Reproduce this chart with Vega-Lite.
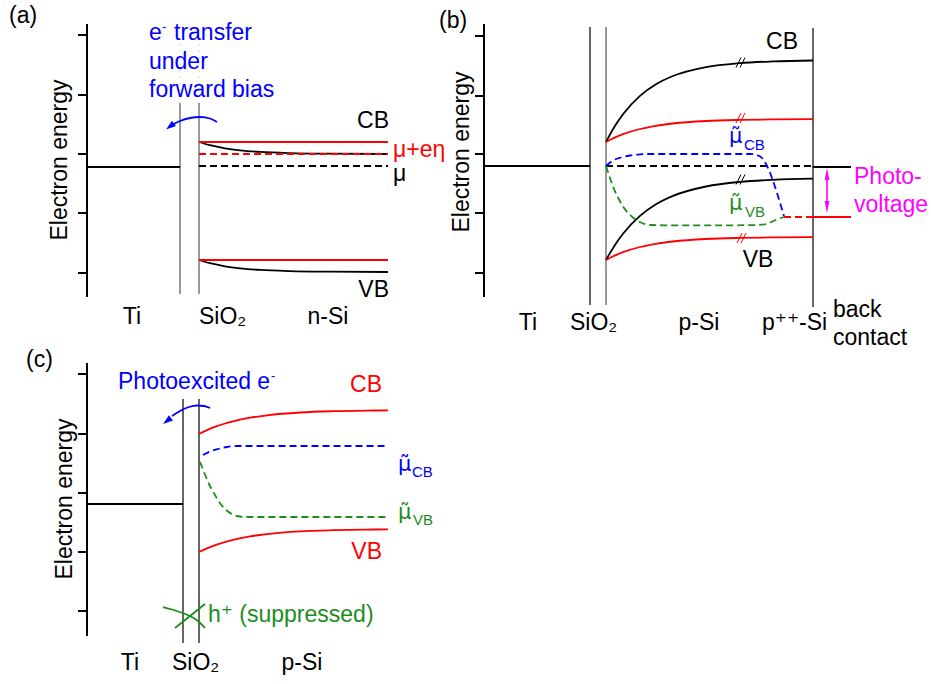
{
  "$schema": "https://vega.github.io/schema/vega-lite/v6.json",
  "width": 931,
  "height": 684,
  "autosize": {"type": "fit", "contains": "padding"},
  "padding": 0,
  "config": {"view": {"stroke": null}, "font": "Liberation Sans, Arial, DejaVu Sans"},
  "datasets": {
    "curves": [
      {"id": "a_cb", "s": "dark", "ln": "solid", "x": 199, "y": 142}, {"id": "a_cb", "s": "dark", "ln": "solid", "x": 210, "y": 145.2}, {"id": "a_cb", "s": "dark", "ln": "solid", "x": 225, "y": 148.3}, {"id": "a_cb", "s": "dark", "ln": "solid", "x": 240, "y": 150.3}, {"id": "a_cb", "s": "dark", "ln": "solid", "x": 260, "y": 151.9}, {"id": "a_cb", "s": "dark", "ln": "solid", "x": 290, "y": 153.1}, {"id": "a_cb", "s": "dark", "ln": "solid", "x": 330, "y": 153.7}, {"id": "a_cb", "s": "dark", "ln": "solid", "x": 388, "y": 154},
      {"id": "a_vb", "s": "dark", "ln": "solid", "x": 199, "y": 260}, {"id": "a_vb", "s": "dark", "ln": "solid", "x": 210, "y": 263.2}, {"id": "a_vb", "s": "dark", "ln": "solid", "x": 225, "y": 266.3}, {"id": "a_vb", "s": "dark", "ln": "solid", "x": 240, "y": 268.3}, {"id": "a_vb", "s": "dark", "ln": "solid", "x": 260, "y": 269.9}, {"id": "a_vb", "s": "dark", "ln": "solid", "x": 290, "y": 271.1}, {"id": "a_vb", "s": "dark", "ln": "solid", "x": 330, "y": 271.7}, {"id": "a_vb", "s": "dark", "ln": "solid", "x": 388, "y": 272},
      {"id": "a_cbl", "s": "light", "ln": "solid", "x": 199, "y": 142}, {"id": "a_cbl", "s": "light", "ln": "solid", "x": 388, "y": 142},
      {"id": "a_vbl", "s": "light", "ln": "solid", "x": 199, "y": 260}, {"id": "a_vbl", "s": "light", "ln": "solid", "x": 388, "y": 260},
      {"id": "a_ti", "s": "dark", "ln": "solid", "x": 87, "y": 167}, {"id": "a_ti", "s": "dark", "ln": "solid", "x": 180, "y": 167},
      {"id": "a_mu", "s": "light", "ln": "dash", "x": 199, "y": 154}, {"id": "a_mu", "s": "light", "ln": "dash", "x": 388, "y": 154},
      {"id": "a_ef", "s": "dark", "ln": "dash", "x": 199, "y": 166}, {"id": "a_ef", "s": "dark", "ln": "dash", "x": 388, "y": 166},
      {"id": "a_arr", "s": "elec", "ln": "solid", "x": 172, "y": 125}, {"id": "a_arr", "s": "elec", "ln": "solid", "x": 180, "y": 121}, {"id": "a_arr", "s": "elec", "ln": "solid", "x": 190, "y": 118}, {"id": "a_arr", "s": "elec", "ln": "solid", "x": 200, "y": 117}, {"id": "a_arr", "s": "elec", "ln": "solid", "x": 210, "y": 118.5}, {"id": "a_arr", "s": "elec", "ln": "solid", "x": 217, "y": 122},

      {"id": "b_cb", "s": "dark", "ln": "solid", "x": 606, "y": 142}, {"id": "b_cb", "s": "dark", "ln": "solid", "x": 614, "y": 127.5}, {"id": "b_cb", "s": "dark", "ln": "solid", "x": 623, "y": 114.2}, {"id": "b_cb", "s": "dark", "ln": "solid", "x": 640, "y": 95.8}, {"id": "b_cb", "s": "dark", "ln": "solid", "x": 656, "y": 84.2}, {"id": "b_cb", "s": "dark", "ln": "solid", "x": 673, "y": 76}, {"id": "b_cb", "s": "dark", "ln": "solid", "x": 706, "y": 67.1}, {"id": "b_cb", "s": "dark", "ln": "solid", "x": 740, "y": 63.1}, {"id": "b_cb", "s": "dark", "ln": "solid", "x": 773, "y": 61.4}, {"id": "b_cb", "s": "dark", "ln": "solid", "x": 813, "y": 60.5},
      {"id": "b_cbl", "s": "light", "ln": "solid", "x": 606, "y": 142}, {"id": "b_cbl", "s": "light", "ln": "solid", "x": 614, "y": 137.9}, {"id": "b_cbl", "s": "light", "ln": "solid", "x": 623, "y": 134.2}, {"id": "b_cbl", "s": "light", "ln": "solid", "x": 640, "y": 129}, {"id": "b_cbl", "s": "light", "ln": "solid", "x": 656, "y": 125.8}, {"id": "b_cbl", "s": "light", "ln": "solid", "x": 673, "y": 123.5}, {"id": "b_cbl", "s": "light", "ln": "solid", "x": 706, "y": 121}, {"id": "b_cbl", "s": "light", "ln": "solid", "x": 740, "y": 119.9}, {"id": "b_cbl", "s": "light", "ln": "solid", "x": 773, "y": 119.4}, {"id": "b_cbl", "s": "light", "ln": "solid", "x": 813, "y": 119.1},
      {"id": "b_vb", "s": "dark", "ln": "solid", "x": 606, "y": 260}, {"id": "b_vb", "s": "dark", "ln": "solid", "x": 614, "y": 246.4}, {"id": "b_vb", "s": "dark", "ln": "solid", "x": 623, "y": 233.7}, {"id": "b_vb", "s": "dark", "ln": "solid", "x": 640, "y": 215.9}, {"id": "b_vb", "s": "dark", "ln": "solid", "x": 656, "y": 204.3}, {"id": "b_vb", "s": "dark", "ln": "solid", "x": 673, "y": 195.9}, {"id": "b_vb", "s": "dark", "ln": "solid", "x": 706, "y": 186.5}, {"id": "b_vb", "s": "dark", "ln": "solid", "x": 740, "y": 181.9}, {"id": "b_vb", "s": "dark", "ln": "solid", "x": 773, "y": 179.8}, {"id": "b_vb", "s": "dark", "ln": "solid", "x": 813, "y": 178.7},
      {"id": "b_vbl", "s": "light", "ln": "solid", "x": 606, "y": 260}, {"id": "b_vbl", "s": "light", "ln": "solid", "x": 614, "y": 255.9}, {"id": "b_vbl", "s": "light", "ln": "solid", "x": 623, "y": 252.2}, {"id": "b_vbl", "s": "light", "ln": "solid", "x": 640, "y": 247}, {"id": "b_vbl", "s": "light", "ln": "solid", "x": 656, "y": 243.8}, {"id": "b_vbl", "s": "light", "ln": "solid", "x": 673, "y": 241.5}, {"id": "b_vbl", "s": "light", "ln": "solid", "x": 706, "y": 239}, {"id": "b_vbl", "s": "light", "ln": "solid", "x": 740, "y": 237.9}, {"id": "b_vbl", "s": "light", "ln": "solid", "x": 773, "y": 237.4}, {"id": "b_vbl", "s": "light", "ln": "solid", "x": 813, "y": 237.1},
      {"id": "b_ti", "s": "dark", "ln": "solid", "x": 484, "y": 166}, {"id": "b_ti", "s": "dark", "ln": "solid", "x": 590, "y": 166},
      {"id": "b_fb", "s": "dark", "ln": "solid", "x": 813, "y": 167}, {"id": "b_fb", "s": "dark", "ln": "solid", "x": 851, "y": 167},
      {"id": "b_rb", "s": "light", "ln": "solid", "x": 813, "y": 217}, {"id": "b_rb", "s": "light", "ln": "solid", "x": 851, "y": 217},
      {"id": "b_ef", "s": "dark", "ln": "dash", "x": 606, "y": 166}, {"id": "b_ef", "s": "dark", "ln": "dash", "x": 813, "y": 166},
      {"id": "b_rd", "s": "light", "ln": "dash", "x": 784, "y": 217}, {"id": "b_rd", "s": "light", "ln": "dash", "x": 813, "y": 217},
      {"id": "b_mc", "s": "muCB", "ln": "dash", "x": 606, "y": 166}, {"id": "b_mc", "s": "muCB", "ln": "dash", "x": 613, "y": 160.5}, {"id": "b_mc", "s": "muCB", "ln": "dash", "x": 621, "y": 157.5}, {"id": "b_mc", "s": "muCB", "ln": "dash", "x": 630, "y": 155.5}, {"id": "b_mc", "s": "muCB", "ln": "dash", "x": 640, "y": 154.3}, {"id": "b_mc", "s": "muCB", "ln": "dash", "x": 650, "y": 154}, {"id": "b_mc", "s": "muCB", "ln": "dash", "x": 700, "y": 154}, {"id": "b_mc", "s": "muCB", "ln": "dash", "x": 750, "y": 154}, {"id": "b_mc", "s": "muCB", "ln": "dash", "x": 757, "y": 155}, {"id": "b_mc", "s": "muCB", "ln": "dash", "x": 762, "y": 158}, {"id": "b_mc", "s": "muCB", "ln": "dash", "x": 767, "y": 166}, {"id": "b_mc", "s": "muCB", "ln": "dash", "x": 772, "y": 178}, {"id": "b_mc", "s": "muCB", "ln": "dash", "x": 777, "y": 193}, {"id": "b_mc", "s": "muCB", "ln": "dash", "x": 781, "y": 206}, {"id": "b_mc", "s": "muCB", "ln": "dash", "x": 784, "y": 216},
      {"id": "b_mv", "s": "muVB", "ln": "dash", "x": 606, "y": 166}, {"id": "b_mv", "s": "muVB", "ln": "dash", "x": 609, "y": 175}, {"id": "b_mv", "s": "muVB", "ln": "dash", "x": 613, "y": 186.5}, {"id": "b_mv", "s": "muVB", "ln": "dash", "x": 618, "y": 197.5}, {"id": "b_mv", "s": "muVB", "ln": "dash", "x": 623, "y": 206.5}, {"id": "b_mv", "s": "muVB", "ln": "dash", "x": 633, "y": 217.5}, {"id": "b_mv", "s": "muVB", "ln": "dash", "x": 642, "y": 223}, {"id": "b_mv", "s": "muVB", "ln": "dash", "x": 650, "y": 225}, {"id": "b_mv", "s": "muVB", "ln": "dash", "x": 665, "y": 225.3}, {"id": "b_mv", "s": "muVB", "ln": "dash", "x": 730, "y": 225.3}, {"id": "b_mv", "s": "muVB", "ln": "dash", "x": 758, "y": 225}, {"id": "b_mv", "s": "muVB", "ln": "dash", "x": 766, "y": 224}, {"id": "b_mv", "s": "muVB", "ln": "dash", "x": 772, "y": 221.7}, {"id": "b_mv", "s": "muVB", "ln": "dash", "x": 778, "y": 219}, {"id": "b_mv", "s": "muVB", "ln": "dash", "x": 784, "y": 217},

      {"id": "c_ti", "s": "dark", "ln": "solid", "x": 87, "y": 504}, {"id": "c_ti", "s": "dark", "ln": "solid", "x": 183, "y": 504},
      {"id": "c_cbl", "s": "light", "ln": "solid", "x": 199, "y": 434}, {"id": "c_cbl", "s": "light", "ln": "solid", "x": 207, "y": 430.1}, {"id": "c_cbl", "s": "light", "ln": "solid", "x": 216, "y": 426.4}, {"id": "c_cbl", "s": "light", "ln": "solid", "x": 233, "y": 421.3}, {"id": "c_cbl", "s": "light", "ln": "solid", "x": 250, "y": 417.7}, {"id": "c_cbl", "s": "light", "ln": "solid", "x": 267, "y": 415.3}, {"id": "c_cbl", "s": "light", "ln": "solid", "x": 300, "y": 412.5}, {"id": "c_cbl", "s": "light", "ln": "solid", "x": 333, "y": 411.2}, {"id": "c_cbl", "s": "light", "ln": "solid", "x": 366, "y": 410.6}, {"id": "c_cbl", "s": "light", "ln": "solid", "x": 388, "y": 410.4},
      {"id": "c_vbl", "s": "light", "ln": "solid", "x": 199, "y": 552}, {"id": "c_vbl", "s": "light", "ln": "solid", "x": 207, "y": 548.3}, {"id": "c_vbl", "s": "light", "ln": "solid", "x": 216, "y": 544.8}, {"id": "c_vbl", "s": "light", "ln": "solid", "x": 233, "y": 539.8}, {"id": "c_vbl", "s": "light", "ln": "solid", "x": 250, "y": 536.4}, {"id": "c_vbl", "s": "light", "ln": "solid", "x": 267, "y": 534.1}, {"id": "c_vbl", "s": "light", "ln": "solid", "x": 300, "y": 531.4}, {"id": "c_vbl", "s": "light", "ln": "solid", "x": 333, "y": 530.2}, {"id": "c_vbl", "s": "light", "ln": "solid", "x": 366, "y": 529.6}, {"id": "c_vbl", "s": "light", "ln": "solid", "x": 388, "y": 529.4},
      {"id": "c_mc", "s": "muCB", "ln": "dash", "x": 203, "y": 455}, {"id": "c_mc", "s": "muCB", "ln": "dash", "x": 210, "y": 451.5}, {"id": "c_mc", "s": "muCB", "ln": "dash", "x": 218, "y": 449}, {"id": "c_mc", "s": "muCB", "ln": "dash", "x": 227, "y": 447}, {"id": "c_mc", "s": "muCB", "ln": "dash", "x": 237, "y": 446}, {"id": "c_mc", "s": "muCB", "ln": "dash", "x": 388, "y": 446},
      {"id": "c_mv", "s": "muVB", "ln": "dash", "x": 200, "y": 462}, {"id": "c_mv", "s": "muVB", "ln": "dash", "x": 204, "y": 472}, {"id": "c_mv", "s": "muVB", "ln": "dash", "x": 209, "y": 484}, {"id": "c_mv", "s": "muVB", "ln": "dash", "x": 215, "y": 495}, {"id": "c_mv", "s": "muVB", "ln": "dash", "x": 221, "y": 504.5}, {"id": "c_mv", "s": "muVB", "ln": "dash", "x": 228, "y": 511.5}, {"id": "c_mv", "s": "muVB", "ln": "dash", "x": 237, "y": 516}, {"id": "c_mv", "s": "muVB", "ln": "dash", "x": 247, "y": 517}, {"id": "c_mv", "s": "muVB", "ln": "dash", "x": 388, "y": 517},
      {"id": "c_arr", "s": "elec", "ln": "solid", "x": 172, "y": 416}, {"id": "c_arr", "s": "elec", "ln": "solid", "x": 180, "y": 411}, {"id": "c_arr", "s": "elec", "ln": "solid", "x": 189, "y": 407}, {"id": "c_arr", "s": "elec", "ln": "solid", "x": 197, "y": 405.5}, {"id": "c_arr", "s": "elec", "ln": "solid", "x": 204, "y": 406}, {"id": "c_arr", "s": "elec", "ln": "solid", "x": 210, "y": 408},
      {"id": "c_x1", "s": "hole", "ln": "solid", "x": 163, "y": 607}, {"id": "c_x1", "s": "hole", "ln": "solid", "x": 172, "y": 609.5}, {"id": "c_x1", "s": "hole", "ln": "solid", "x": 181, "y": 612.5}, {"id": "c_x1", "s": "hole", "ln": "solid", "x": 190, "y": 616}, {"id": "c_x1", "s": "hole", "ln": "solid", "x": 198, "y": 621}, {"id": "c_x1", "s": "hole", "ln": "solid", "x": 205, "y": 628},
      {"id": "c_x2", "s": "hole", "ln": "solid", "x": 175, "y": 628}, {"id": "c_x2", "s": "hole", "ln": "solid", "x": 205, "y": 604}
    ],
    "segs": [
      {"k": "ax", "s": "dark", "x": 87, "y": 24, "x2": 87, "y2": 297},
      {"k": "ax", "s": "dark", "x": 78, "y": 35, "x2": 87, "y2": 35}, {"k": "ax", "s": "dark", "x": 78, "y": 95, "x2": 87, "y2": 95}, {"k": "ax", "s": "dark", "x": 78, "y": 154, "x2": 87, "y2": 154}, {"k": "ax", "s": "dark", "x": 78, "y": 213, "x2": 87, "y2": 213}, {"k": "ax", "s": "dark", "x": 78, "y": 273, "x2": 87, "y2": 273},
      {"k": "ax", "s": "dark", "x": 484, "y": 24, "x2": 484, "y2": 297},
      {"k": "ax", "s": "dark", "x": 475, "y": 36, "x2": 484, "y2": 36}, {"k": "ax", "s": "dark", "x": 475, "y": 96, "x2": 484, "y2": 96}, {"k": "ax", "s": "dark", "x": 475, "y": 154, "x2": 484, "y2": 154}, {"k": "ax", "s": "dark", "x": 475, "y": 213, "x2": 484, "y2": 213}, {"k": "ax", "s": "dark", "x": 475, "y": 273, "x2": 484, "y2": 273},
      {"k": "ax", "s": "dark", "x": 87, "y": 363, "x2": 87, "y2": 636},
      {"k": "ax", "s": "dark", "x": 78, "y": 374, "x2": 87, "y2": 374}, {"k": "ax", "s": "dark", "x": 78, "y": 434, "x2": 87, "y2": 434}, {"k": "ax", "s": "dark", "x": 78, "y": 493, "x2": 87, "y2": 493}, {"k": "ax", "s": "dark", "x": 78, "y": 552, "x2": 87, "y2": 552}, {"k": "ax", "s": "dark", "x": 78, "y": 611, "x2": 87, "y2": 611},
      {"k": "wall", "s": "ox", "x": 180, "y": 103, "x2": 180, "y2": 294}, {"k": "wall", "s": "ox", "x": 199, "y": 103, "x2": 199, "y2": 294},
      {"k": "wall", "s": "dark", "x": 590, "y": 27, "x2": 590, "y2": 305}, {"k": "wall", "s": "ox", "x": 606, "y": 27, "x2": 606, "y2": 305}, {"k": "wall", "s": "dark", "x": 813, "y": 28, "x2": 813, "y2": 307},
      {"k": "wall", "s": "dark", "x": 183, "y": 399, "x2": 183, "y2": 643}, {"k": "wall", "s": "dark", "x": 199, "y": 399, "x2": 199, "y2": 643},
      {"k": "dot", "s": "ox", "x": 180, "y": 44, "x2": 180, "y2": 103}, {"k": "dot", "s": "ox", "x": 199, "y": 44, "x2": 199, "y2": 103},
      {"k": "brk", "s": "dark", "x": 736, "y": 67.5, "x2": 741, "y2": 57.5}, {"k": "brk", "s": "dark", "x": 740, "y": 67.5, "x2": 745, "y2": 57.5},
      {"k": "brk", "s": "light", "x": 736, "y": 123, "x2": 741, "y2": 113}, {"k": "brk", "s": "light", "x": 740, "y": 123, "x2": 745, "y2": 113},
      {"k": "brk", "s": "dark", "x": 736, "y": 184.5, "x2": 741, "y2": 174.5}, {"k": "brk", "s": "dark", "x": 740, "y": 184.5, "x2": 745, "y2": 174.5},
      {"k": "brk", "s": "light", "x": 737, "y": 243, "x2": 742, "y2": 233}, {"k": "brk", "s": "light", "x": 741, "y": 243, "x2": 746, "y2": 233},
      {"k": "mag", "s": "pv", "x": 827, "y": 173, "x2": 827, "y2": 208}
    ],
    "heads": [
      {"k": "dl", "s": "elec", "x": 170, "y": 126.5},
      {"k": "dl", "s": "elec", "x": 167, "y": 421},
      {"k": "up", "s": "pv", "x": 827, "y": 174},
      {"k": "dn", "s": "pv", "x": 827, "y": 207}
    ],
    "texts": [
      {"k": "L", "s": "dark", "t": "(a)", "x": 9, "y": 16},
      {"k": "L", "s": "elec", "t": "e", "x": 149, "y": 33},
      {"k": "L", "s": "elec", "t": "transfer", "x": 174, "y": 33},
      {"k": "L", "s": "elec", "t": "under", "x": 149, "y": 62},
      {"k": "L", "s": "elec", "t": "forward bias", "x": 149, "y": 90},
      {"k": "L", "s": "light", "t": "μ+eη", "x": 393, "y": 150},
      {"k": "L", "s": "dark", "t": "μ", "x": 393, "y": 174},
      {"k": "L", "s": "dark", "t": "SiO₂", "x": 199, "y": 317},
      {"k": "L", "s": "dark", "t": "(b)", "x": 439, "y": 21},
      {"k": "L", "s": "dark", "t": "SiO₂", "x": 570, "y": 323},
      {"k": "L", "s": "dark", "t": "p⁺⁺-Si", "x": 762, "y": 323},
      {"k": "L", "s": "dark", "t": "back", "x": 833, "y": 310},
      {"k": "L", "s": "dark", "t": "contact", "x": 833, "y": 338},
      {"k": "L", "s": "pv", "t": "Photo-", "x": 854, "y": 177},
      {"k": "L", "s": "pv", "t": "voltage", "x": 854, "y": 205},
      {"k": "U", "s": "muCB", "t": "μ̃", "x": 729, "y": 137},
      {"k": "U", "s": "muVB", "t": "μ̃", "x": 729, "y": 204},
      {"k": "L", "s": "dark", "t": "(c)", "x": 26, "y": 360},
      {"k": "L", "s": "elec", "t": "Photoexcited e", "x": 118, "y": 382},
      {"k": "U", "s": "muCB", "t": "μ̃", "x": 398, "y": 465},
      {"k": "U", "s": "muVB", "t": "μ̃", "x": 398, "y": 513},
      {"k": "L", "s": "hole", "t": "h⁺ (suppressed)", "x": 208, "y": 615},
      {"k": "L", "s": "dark", "t": "SiO₂", "x": 172, "y": 663},
      {"k": "S", "s": "muCB", "t": "CB", "x": 744, "y": 145},
      {"k": "S", "s": "muVB", "t": "VB", "x": 745, "y": 212},
      {"k": "S", "s": "muCB", "t": "CB", "x": 412, "y": 472},
      {"k": "S", "s": "muVB", "t": "VB", "x": 413, "y": 520},
      {"k": "P", "s": "elec", "t": "-", "x": 162, "y": 27},
      {"k": "P", "s": "elec", "t": "-", "x": 271, "y": 376},
      {"k": "C", "s": "dark", "t": "Ti", "x": 132, "y": 317},
      {"k": "C", "s": "dark", "t": "n-Si", "x": 328, "y": 317},
      {"k": "C", "s": "dark", "t": "Ti", "x": 528, "y": 323},
      {"k": "C", "s": "dark", "t": "p-Si", "x": 699, "y": 323},
      {"k": "C", "s": "dark", "t": "Ti", "x": 130, "y": 663},
      {"k": "C", "s": "dark", "t": "p-Si", "x": 302, "y": 663},
      {"k": "C", "s": "dark", "t": "CB", "x": 782, "y": 42},
      {"k": "C", "s": "dark", "t": "VB", "x": 758, "y": 260},
      {"k": "R", "s": "dark", "t": "CB", "x": 389, "y": 121},
      {"k": "R", "s": "dark", "t": "VB", "x": 389, "y": 290},
      {"k": "R", "s": "light", "t": "CB", "x": 382, "y": 385},
      {"k": "R", "s": "light", "t": "VB", "x": 382, "y": 552},
      {"k": "T", "s": "dark", "t": "Electron energy", "x": 60, "y": 160},
      {"k": "T", "s": "dark", "t": "Electron energy", "x": 462, "y": 152},
      {"k": "T", "s": "dark", "t": "Electron energy", "x": 65, "y": 499}
    ]
  },
  "encoding": {
    "x": {"field": "x", "type": "quantitative", "scale": {"domain": [0, 931], "nice": false, "zero": false}, "axis": null},
    "y": {"field": "y", "type": "quantitative", "scale": {"domain": [0, 684], "nice": false, "zero": false, "reverse": true}, "axis": null},
    "color": {"field": "s", "type": "nominal", "legend": null, "scale": {"domain": ["dark", "light", "muCB", "muVB", "elec", "hole", "pv", "ox"], "range": ["#000000", "#ff0000", "#0000ff", "#1e8c1e", "#0000ff", "#1e8c1e", "#ff00ff", "#555555"]}}
  },
  "layer": [
    {"data": {"name": "segs"}, "transform": [{"filter": "datum.k == 'ax'"}], "mark": {"type": "rule", "strokeWidth": 2}, "encoding": {"x2": {"field": "x2"}, "y2": {"field": "y2"}}},
    {"data": {"name": "segs"}, "transform": [{"filter": "datum.k == 'wall'"}], "mark": {"type": "rule", "strokeWidth": 1.2}, "encoding": {"x2": {"field": "x2"}, "y2": {"field": "y2"}}},
    {"data": {"name": "segs"}, "transform": [{"filter": "datum.k == 'dot'"}], "mark": {"type": "rule", "strokeWidth": 1, "strokeDash": [1.5, 5], "opacity": 0.35}, "encoding": {"x2": {"field": "x2"}, "y2": {"field": "y2"}}},
    {"data": {"name": "segs"}, "transform": [{"filter": "datum.k == 'brk'"}], "mark": {"type": "rule", "strokeWidth": 1}, "encoding": {"x2": {"field": "x2"}, "y2": {"field": "y2"}}},
    {"data": {"name": "segs"}, "transform": [{"filter": "datum.k == 'mag'"}], "mark": {"type": "rule", "strokeWidth": 1.6}, "encoding": {"x2": {"field": "x2"}, "y2": {"field": "y2"}}},
    {"data": {"name": "curves"}, "transform": [{"filter": "datum.ln == 'solid'"}], "mark": {"type": "line", "strokeWidth": 1.8, "interpolate": "monotone"}, "encoding": {"detail": {"field": "id"}}},
    {"data": {"name": "curves"}, "transform": [{"filter": "datum.ln == 'dash'"}], "mark": {"type": "line", "strokeWidth": 1.8, "interpolate": "monotone", "strokeDash": [7, 4]}, "encoding": {"detail": {"field": "id"}}},
    {"data": {"name": "heads"}, "transform": [{"filter": "datum.k == 'dl'"}], "mark": {"type": "point", "filled": true, "opacity": 1, "shape": "M0,-1L0.65,1L-0.65,1Z", "size": 100, "angle": 232}},
    {"data": {"name": "heads"}, "transform": [{"filter": "datum.k == 'up'"}], "mark": {"type": "point", "filled": true, "opacity": 1, "shape": "M0,-1L0.4,1L-0.4,1Z", "size": 144, "angle": 0}},
    {"data": {"name": "heads"}, "transform": [{"filter": "datum.k == 'dn'"}], "mark": {"type": "point", "filled": true, "opacity": 1, "shape": "M0,-1L0.4,1L-0.4,1Z", "size": 144, "angle": 180}},
    {"data": {"name": "texts"}, "transform": [{"filter": "datum.k == 'L'"}], "mark": {"type": "text", "align": "left", "baseline": "middle", "fontSize": 23}, "encoding": {"text": {"field": "t"}}},
    {"data": {"name": "texts"}, "transform": [{"filter": "datum.k == 'U'"}], "mark": {"type": "text", "align": "left", "baseline": "middle", "fontSize": 21, "font": "DejaVu Sans"}, "encoding": {"text": {"field": "t"}}},
    {"data": {"name": "texts"}, "transform": [{"filter": "datum.k == 'S'"}], "mark": {"type": "text", "align": "left", "baseline": "middle", "fontSize": 15}, "encoding": {"text": {"field": "t"}}},
    {"data": {"name": "texts"}, "transform": [{"filter": "datum.k == 'P'"}], "mark": {"type": "text", "align": "left", "baseline": "middle", "fontSize": 13}, "encoding": {"text": {"field": "t"}}},
    {"data": {"name": "texts"}, "transform": [{"filter": "datum.k == 'C'"}], "mark": {"type": "text", "align": "center", "baseline": "middle", "fontSize": 23}, "encoding": {"text": {"field": "t"}}},
    {"data": {"name": "texts"}, "transform": [{"filter": "datum.k == 'R'"}], "mark": {"type": "text", "align": "right", "baseline": "middle", "fontSize": 23}, "encoding": {"text": {"field": "t"}}},
    {"data": {"name": "texts"}, "transform": [{"filter": "datum.k == 'T'"}], "mark": {"type": "text", "align": "center", "baseline": "middle", "fontSize": 23, "angle": 270}, "encoding": {"text": {"field": "t"}}}
  ]
}
